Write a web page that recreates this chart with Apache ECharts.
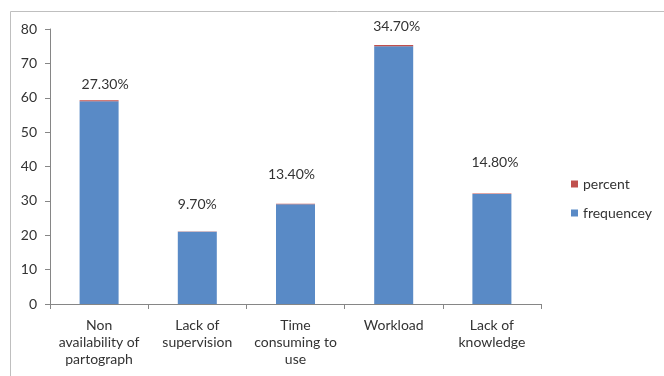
<!DOCTYPE html>
<html>
<head>
<meta charset="utf-8">
<script src="https://cdn.jsdelivr.net/npm/echarts@6/dist/echarts.min.js"></script>
<style>
html,body{margin:0;padding:0;background:#fff;}
#c{width:664px;height:376px;}
</style>
</head>
<body>
<div id="c"></div>
<script>
var categories = ['Non availability of partograph', 'Lack of supervision', 'Time consuming to use', 'Workload', 'Lack of knowledge'];
var categoryLabels = ['Non\navailability of\npartograph', 'Lack of\nsupervision', 'Time\nconsuming to\nuse', 'Workload', 'Lack of\nknowledge'];
var frequency = [59, 21, 29, 75, 32];
var percent = [0.273, 0.097, 0.134, 0.347, 0.148];
var yTicks = [0, 10, 20, 30, 40, 50, 60, 70, 80];

var labelDistance = [9, 20, 22, 12, 24];
var labelDx = [6, 0, -4, 3, 3];

var font = 'Lato, "Open Sans", sans-serif';
var chart = echarts.init(document.getElementById('c'), null, {renderer: 'canvas'});
chart.setOption({
  animation: false,
  backgroundColor: '#ffffff',
  graphic: [{
    type: 'rect', silent: true,
    shape: {x: 10.5, y: 11.5, width: 700, height: 400},
    style: {fill: 'none', stroke: '#bfbfbf', lineWidth: 1}
  }],
  grid: {left: 50, top: 29, right: 123, bottom: 72, containLabel: false},
  legend: {
    orient: 'vertical', left: 566, top: 172,
    itemWidth: 7, itemHeight: 7, itemGap: 15,
    icon: 'rect',
    data: ['percent', 'frequencey'],
    textStyle: {fontFamily: font, fontSize: 14, color: '#333'}
  },
  xAxis: {
    type: 'category',
    data: categories,
    axisLine: {lineStyle: {color: '#868686', width: 1}},
    axisTick: {show: true, length: 5, lineStyle: {color: '#868686'}},
    axisLabel: {
      interval: 0, margin: 13, lineHeight: 17,
      fontFamily: font, fontSize: 14, color: '#333',
      formatter: function (v, i) { return categoryLabels[i]; }
    }
  },
  yAxis: {
    type: 'value', min: yTicks[0], max: yTicks[yTicks.length - 1], interval: 10,
    splitLine: {show: false},
    axisLine: {show: true, lineStyle: {color: '#868686', width: 1}},
    axisTick: {show: true, length: 5, lineStyle: {color: '#868686'}},
    axisLabel: {margin: 13, fontFamily: font, fontSize: 14, color: '#333'}
  },
  series: [
    {
      name: 'frequencey', type: 'bar', stack: 's', barWidth: 39,
      itemStyle: {color: '#598AC6'},
      data: frequency
    },
    {
      name: 'percent', type: 'bar', stack: 's', barWidth: 39,
      itemStyle: {color: '#C0504D'},
      data: percent.map(function (p, i) {
        return {
          value: p,
          label: {distance: labelDistance[i], offset: [labelDx[i], 0]}
        };
      }),
      label: {
        show: true, position: 'top',
        fontFamily: font, fontSize: 14, color: '#333',
        formatter: function (p) { return (p.value * 100).toFixed(2) + '%'; }
      }
    }
  ]
});
</script>
</body>
</html>
